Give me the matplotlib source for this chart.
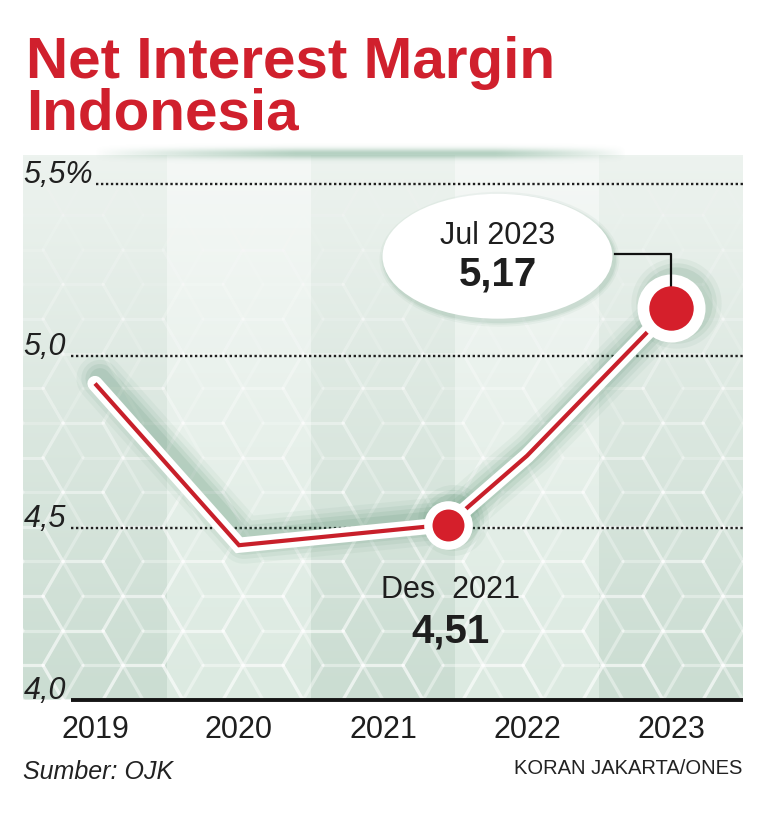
import numpy as np
import matplotlib
matplotlib.use('Agg')
import matplotlib.pyplot as plt
from matplotlib.patches import Ellipse
from matplotlib.collections import LineCollection
from matplotlib.transforms import offset_copy

# ---------------- data ----------------
years = ['2019', '2020', '2021', '2022', '2023']
x_pos = [0, 1, 2.45, 3, 4]            # position of each observation on the year axis
nim = [4.92, 4.45, 4.51, 4.71, 5.14]  # Net Interest Margin (%)
yticks = [4.0, 4.5, 5.0, 5.5]
ytick_labels = ['4,0', '4,5', '5,0', '5,5%']
hl_idx = [2, 4]
hl_period = ['Des  2021', 'Jul 2023']
hl_value = ['4,51', '5,17']

FONT = 'Liberation Sans'
plt.rcParams['font.family'] = [FONT, 'DejaVu Sans']

W, H = 767, 817
fig = plt.figure(figsize=(W / 100, H / 100), dpi=100)
fig.patch.set_facecolor('white')

L, Rr, B, T = 23, 743, 700, 155
ax = fig.add_axes([L / W, 1 - B / H, (Rr - L) / W, (B - T) / H])
x0, x1 = -0.5, 4.5
pxx = (Rr - L) / (x1 - x0)
pxy = 344.0
y0 = 4.0
y1 = y0 + (B - T) / pxy
ax.set_xlim(x0, x1)
ax.set_ylim(y0, y1)
for s in ax.spines.values():
    s.set_visible(False)

# ---------------- background bands with vertical gradient ----------------
ny, nxb = 300, 144
rows = np.linspace(0, 1, ny)[:, None]
dark_b = np.array([203, 221, 210]) / 255
dark_t = np.array([237, 243, 239]) / 255
light_b = np.array([220, 234, 225]) / 255
light_t = np.array([245, 248, 246]) / 255
tt = rows ** 1.1
img = np.zeros((ny, nxb * 5, 3))
for b in range(5):
    if b % 2 == 0:
        col = dark_b * (1 - tt) + dark_t * tt
    else:
        col = light_b * (1 - tt) + light_t * tt
    img[:, b * nxb:(b + 1) * nxb, :] = col[:, None, :]
ax.imshow(img, extent=(x0, x1, y0, y1), origin='lower', aspect='auto',
          interpolation='nearest', zorder=0)

# ---------------- tumbling-blocks pattern ----------------
Rh = 40.0
Wp, Hp = Rr - L, B - T
segs, cols = [], []
s3 = np.sqrt(3)
ang = np.deg2rad(np.arange(0, 360, 60))
for i in range(-1, int(Wp / (1.5 * Rh)) + 3):
    for j in range(-1, int(Hp / (s3 * Rh)) + 3):
        cx = i * 1.5 * Rh
        cy = j * s3 * Rh + (i % 2) * s3 / 2 * Rh
        vx = cx + Rh * np.cos(ang)
        vy = cy + Rh * np.sin(ang)
        lines = [((vx[k], vy[k]), (vx[(k + 1) % 6], vy[(k + 1) % 6])) for k in range(6)]
        lines += [((cx, cy), (vx[k], vy[k])) for k in (0, 2, 4)]
        for (ua, va), (ub, vb) in lines:
            vm = 0.5 * (va + vb)
            a = 0.38 * np.clip(1 - vm / Hp, 0, 1) ** 1.1 + 0.03
            segs.append([(x0 + ua / pxx, y0 + va / pxy), (x0 + ub / pxx, y0 + vb / pxy)])
            cols.append((1, 1, 1, a))
ax.add_collection(LineCollection(segs, colors=cols, linewidths=2.3, zorder=1,
                                 capstyle='round'))

# ---------------- grid lines ----------------
ax.hlines(5.5, 0.01, x1, colors='#1e1e1e', linestyles=(0, (1, 1.1)), lw=1.7, zorder=2)
ax.hlines([5.0, 4.5], -0.165, x1, colors='#1e1e1e', linestyles=(0, (1, 1.1)), lw=1.7, zorder=2)
ax.hlines(4.0, -0.165, x1, colors='#151515', lw=2.8, zorder=12, clip_on=False)

for v, lab in zip(yticks, ytick_labels):
    ax.text(x0 + 0.003, v + 0.003, lab, ha='left', va='baseline', fontsize=22,
            style='italic', color='#202020', zorder=13, clip_on=False)

# ---------------- line ----------------
sh = offset_copy(ax.transData, fig=fig, x=5, y=5, units='dots')
for w, a in [(34, 0.05), (27, 0.07), (21, 0.09), (15, 0.10)]:
    ax.plot(x_pos, nim, color='#3f7f5c', lw=w, alpha=a, solid_capstyle='round',
            solid_joinstyle='round', transform=sh, zorder=3)
ax.plot(x_pos, nim, color='white', lw=11, solid_capstyle='round',
        solid_joinstyle='miter', zorder=4)
ax.plot(x_pos, nim, color='#c81f2a', lw=3.0, solid_capstyle='butt',
        solid_joinstyle='miter', zorder=5)

# highlighted points
ring = {2: 35, 4: 49}
dot = {2: 23, 4: 32}
for i in hl_idx:
    for ms, a in [(ring[i] + 16, 0.06), (ring[i] + 9, 0.08), (ring[i] + 3, 0.1)]:
        ax.plot([x_pos[i]], [nim[i]], 'o', ms=ms, color='#3f7f5c', alpha=a, mew=0,
                transform=sh, zorder=3)
    ax.plot([x_pos[i]], [nim[i]], 'o', ms=ring[i], color='white', mew=0, zorder=6)
    ax.plot([x_pos[i]], [nim[i]], 'o', ms=dot[i], color='#d51f2b', mew=0, zorder=9)

# ---------------- callouts ----------------
ecx, ecy, ew, eh = 2.795, 5.29, 1.597, 0.363
for k, a in [(10, 0.05), (6, 0.07), (3, 0.09)]:
    ax.add_patch(Ellipse((ecx, ecy), ew + k / pxx, eh + k / pxy, fc='#3f7f5c',
                         ec='none', alpha=a, transform=offset_copy(ax.transData, fig=fig, x=2, y=-3, units='dots'),
                         zorder=7))
ax.add_patch(Ellipse((ecx, ecy), ew, eh, fc='white', ec='none', zorder=8))
ax.text(ecx, 5.349, hl_period[1], ha='center', va='center', fontsize=22,
        color='#1e1e1e', zorder=10)
ax.text(ecx, 5.236, hl_value[1], ha='center', va='center', fontsize=29,
        weight='bold', color='#1e1e1e', zorder=10)
ax.plot([ecx + ew / 2 + 0.02, x_pos[4], x_pos[4]],
        [5.297, 5.297, nim[4] + 10 / pxy], color='#111111', lw=1.6, zorder=8.5)

ax.text(2.47, 4.32, hl_period[0], ha='center', va='center', fontsize=22,
        color='#1e1e1e', zorder=10)
ax.text(2.47, 4.198, hl_value[0], ha='center', va='center', fontsize=29,
        weight='bold', color='#1e1e1e', zorder=10)

# ---------------- x tick labels ----------------
ax.set_xticks(range(len(years)))
ax.set_xticklabels(years, fontsize=22, color='#1e1e1e')
ax.tick_params(axis='x', length=0, pad=11)
ax.set_yticks([])

# ---------------- top glow ----------------
gy0, gy1 = 140, 172
gax = fig.add_axes([L / W, 1 - gy1 / H, (Rr - L) / W, (gy1 - gy0) / H], zorder=5)
gax.set_axis_off()
gxs = np.arange(L, Rr)
gys = np.arange(gy0, gy1)
hx = np.clip((gxs - 95) / 200, 0, 1) * np.clip((625 - gxs) / 130, 0, 1)
hx = hx ** 0.8
vy = np.exp(-((gys - 153) / 5.0) ** 2)
alpha = 0.45 * vy[:, None] * hx[None, :]
gimg = np.zeros((len(gys), len(gxs), 4))
gimg[..., 0] = 0x5a / 255
gimg[..., 1] = 0x98 / 255
gimg[..., 2] = 0x76 / 255
gimg[..., 3] = alpha
gax.imshow(gimg, aspect='auto', extent=(0, 1, 0, 1), origin='upper')

# ---------------- titles & footer ----------------
fig.text(26 / W, 1 - 78 / H, 'Net Interest Margin', fontsize=42, weight='bold',
         color='#d0202d', va='baseline', ha='left')
fig.text(26 / W, 1 - 129 / H, 'Indonesia', fontsize=42, weight='bold',
         color='#d0202d', va='baseline', ha='left')
fig.text(23 / W, 1 - 772 / H, 'Sumber: OJK', fontsize=18, style='italic',
         color='#222222', va='center', ha='left')
fig.text(742 / W, 1 - 769 / H, 'KORAN JAKARTA/ONES', fontsize=14.5,
         color='#222222', va='center', ha='right')

fig.savefig('out.png', dpi=100, facecolor='white')
